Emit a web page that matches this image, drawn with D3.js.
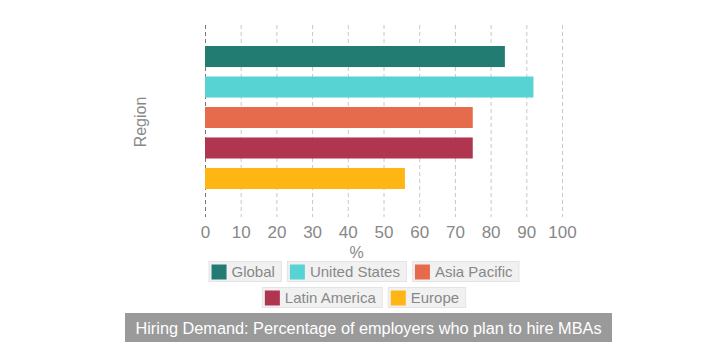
<!DOCTYPE html>
<html><head><meta charset="utf-8">
<script src="https://cdn.jsdelivr.net/npm/d3@7"></script>
<style>
body{margin:0;background:#fff;font-family:Arial,"Liberation Sans",sans-serif;}
</style></head>
<body><svg id="c" width="716" height="357"></svg>
<script>
const series = ["Global","United States","Asia Pacific","Latin America","Europe"];
const values = [84, 92, 75, 75, 56];
const colors = ["#227c72","#58d3d4","#e66b4c","#b0364f","#fdb614"];
const xTicks = [0,10,20,30,40,50,60,70,80,90,100];
const title = "Hiring Demand: Percentage of employers who plan to hire MBAs";

const svg = d3.select("#c");
const x = d3.scaleLinear().domain([0,100]).range([205,562]);
const y = d3.scaleBand().domain(series).range([46,189]).paddingInner(0.31).paddingOuter(0);
const gridTop = 25, gridBottom = 217;

// grid
svg.append("g").selectAll("line").data(xTicks).join("line")
  .attr("x1", d=>x(d)+0.5).attr("x2", d=>x(d)+0.5)
  .attr("y1", gridTop).attr("y2", gridBottom)
  .attr("stroke", d=> d===0 ? "#777" : "#c8c8c8")
  .attr("stroke-width",1)
  .attr("stroke-dasharray","4,3");

// bars
svg.append("g").selectAll("rect").data(series).join("rect")
  .attr("x", x(0)).attr("y", d=>y(d))
  .attr("width", (d,i)=>x(values[i])-x(0))
  .attr("height", y.bandwidth())
  .attr("fill", (d,i)=>colors[i]);

// x axis
const ax = svg.append("g").attr("transform",`translate(0,${gridBottom})`)
  .call(d3.axisBottom(x).tickValues(xTicks).tickSize(0).tickPadding(9));
ax.select(".domain").remove();
ax.selectAll("text").attr("fill","#888").style("font-size","17px").style("font-family","Arial, 'Liberation Sans', sans-serif");

svg.append("text").attr("x", x(42.5)).attr("y", 258).attr("text-anchor","middle")
  .attr("fill","#888").style("font-size","16px").text("%");

svg.append("text").attr("transform","translate(146,122) rotate(-90)")
  .attr("text-anchor","middle").attr("fill","#888").style("font-size","16px").text("Region");

// legend
const legendRows = [[0,1,2],[3,4]];
const itemPad = 23, gap = 5, rowY = [261, 287], itemH = 21;
legendRows.forEach((row, r) => {
  const tmp = svg.append("g");
  const widths = row.map(i => {
    const t = tmp.append("text").style("font-size","15px").text(series[i]);
    const w = t.node().getComputedTextLength(); t.remove();
    return w + itemPad + 7;
  });
  tmp.remove();
  const total = d3.sum(widths) + gap*(row.length-1);
  let cx = 364 - total/2;
  row.forEach((i, k) => {
    const g = svg.append("g").attr("transform",`translate(${cx},${rowY[r]})`);
    g.append("rect").attr("x",0.5).attr("y",0.5).attr("width",widths[k]-1).attr("height",itemH-1)
      .attr("fill","#f1f1f1").attr("stroke","#e4e4e4");
    g.append("rect").attr("x",3).attr("y",3.5).attr("width",15).attr("height",15).attr("fill",colors[i]);
    g.append("text").attr("x",itemPad).attr("y",itemH/2+5.5).attr("fill","#888")
      .style("font-size","15px").text(series[i]);
    cx += widths[k] + gap;
  });
});

// title
svg.append("rect").attr("x",125).attr("y",313).attr("width",487).attr("height",29).attr("fill","#9a9a9a");
svg.append("text").attr("x",368.5).attr("y",334).attr("text-anchor","middle").attr("fill","#fff")
  .style("font-size","16.3px").text(title);
</script></body></html>
